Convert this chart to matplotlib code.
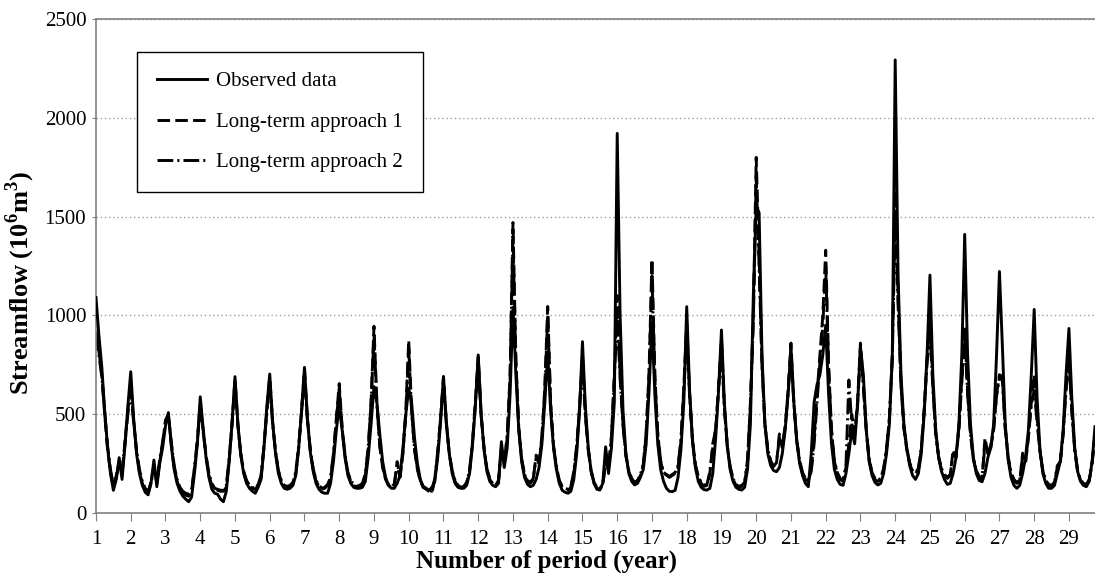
import matplotlib
matplotlib.use("Agg")
import matplotlib.pyplot as plt
import numpy as np

plt.rcParams['font.family'] = ['Liberation Serif', 'DejaVu Serif']
plt.rcParams['mathtext.fontset'] = 'custom'
plt.rcParams['mathtext.rm'] = 'Liberation Serif'
plt.rcParams['mathtext.bf'] = 'Liberation Serif:bold'

# Monthly streamflow (10^6 m3), one row per year (first month = seasonal peak)
observed = [
    [1090, 900, 740, 520, 330, 200, 115, 170, 280, 170, 340, 540],
    [715, 480, 300, 200, 140, 105, 92, 150, 268, 133, 250, 330],
    [440, 508, 340, 220, 150, 110, 85, 70, 57, 80, 200, 350],
    [588, 430, 280, 180, 120, 100, 95, 70, 57, 110, 260, 460],
    [690, 450, 290, 200, 150, 125, 110, 100, 130, 170, 330, 540],
    [703, 460, 300, 200, 150, 125, 120, 125, 140, 190, 330, 520],
    [737, 480, 310, 210, 150, 120, 105, 100, 100, 150, 260, 420],
    [540, 420, 280, 190, 150, 130, 125, 125, 130, 160, 280, 450],
    [640, 560, 400, 260, 180, 140, 125, 125, 150, 190, 330, 500],
    [631, 560, 380, 250, 170, 130, 125, 115, 130, 160, 280, 460],
    [690, 460, 300, 200, 150, 130, 125, 125, 140, 200, 340, 540],
    [800, 500, 320, 210, 160, 140, 133, 150, 361, 230, 330, 600],
    [1040, 700, 420, 260, 180, 145, 133, 140, 170, 230, 350, 560],
    [810, 520, 330, 220, 150, 115, 105, 100, 110, 170, 300, 520],
    [867, 540, 330, 210, 150, 120, 116, 150, 335, 200, 330, 560],
    [1921, 1000, 520, 300, 200, 160, 142, 150, 180, 220, 350, 620],
    [960, 600, 350, 220, 160, 125, 110, 108, 115, 180, 320, 560],
    [1044, 620, 360, 230, 160, 130, 118, 116, 125, 200, 380, 620],
    [926, 560, 340, 220, 160, 130, 120, 116, 130, 220, 450, 1100],
    [1550, 1520, 800, 450, 300, 240, 215, 209, 230, 300, 420, 600],
    [830, 560, 360, 250, 190, 150, 133, 300, 560, 650, 700, 800],
    [950, 600, 350, 220, 170, 145, 140, 200, 300, 420, 350, 550],
    [840, 700, 420, 260, 190, 155, 142, 150, 200, 300, 450, 800],
    [2293, 1200, 700, 450, 330, 240, 190, 170, 200, 300, 500, 800],
    [1204, 700, 420, 280, 210, 170, 145, 150, 200, 280, 450, 800],
    [1410, 800, 450, 280, 200, 165, 158, 200, 280, 330, 450, 800],
    [1222, 850, 450, 270, 180, 140, 125, 140, 200, 280, 420, 700],
    [1030, 580, 320, 200, 150, 125, 125, 140, 200, 260, 420, 700],
    [934, 580, 330, 210, 160, 140, 133, 160, 260, 437],
]

approach1 = [
    [920, 820, 700, 500, 320, 210, 130, 190, 250, 200, 360, 520],
    [650, 470, 310, 210, 150, 115, 100, 160, 240, 150, 260, 350],
    [470, 500, 350, 230, 160, 120, 100, 90, 85, 110, 220, 360],
    [560, 420, 290, 190, 140, 120, 115, 110, 110, 130, 270, 450],
    [680, 450, 300, 210, 160, 135, 125, 120, 140, 180, 330, 520],
    [690, 460, 310, 210, 160, 135, 130, 135, 150, 200, 330, 520],
    [730, 480, 320, 220, 160, 135, 120, 125, 140, 170, 290, 480],
    [655, 430, 290, 200, 160, 140, 130, 135, 140, 190, 320, 560],
    [945, 560, 340, 230, 170, 140, 130, 140, 260, 180, 300, 520],
    [875, 520, 320, 220, 160, 130, 120, 110, 100, 170, 300, 480],
    [690, 450, 300, 210, 160, 135, 125, 130, 150, 210, 350, 560],
    [790, 500, 330, 220, 170, 145, 135, 160, 330, 250, 380, 700],
    [1470, 780, 430, 270, 190, 160, 150, 170, 293, 250, 380, 640],
    [1045, 560, 340, 230, 160, 130, 120, 115, 130, 200, 330, 540],
    [800, 500, 320, 210, 150, 125, 120, 140, 260, 220, 380, 700],
    [1100, 700, 450, 290, 210, 170, 150, 160, 190, 240, 400, 720],
    [1285, 700, 400, 260, 200, 192, 180, 190, 200, 230, 360, 640],
    [960, 600, 370, 240, 180, 150, 135, 140, 200, 352, 420, 640],
    [880, 540, 340, 230, 170, 140, 130, 135, 150, 260, 560, 1000],
    [1800, 1300, 760, 450, 320, 260, 230, 250, 400, 330, 430, 620],
    [860, 560, 370, 260, 200, 170, 160, 220, 380, 600, 800, 1000],
    [1330, 750, 420, 260, 200, 170, 160, 230, 350, 500, 400, 560],
    [860, 650, 420, 270, 200, 170, 160, 170, 220, 320, 480, 800],
    [1630, 1100, 650, 430, 320, 250, 210, 200, 220, 320, 520, 780],
    [1000, 650, 400, 280, 220, 190, 175, 190, 319, 280, 420, 680],
    [940, 620, 400, 270, 210, 180, 170, 380, 300, 330, 420, 600],
    [700, 690, 430, 280, 200, 165, 150, 160, 303, 250, 380, 560],
    [700, 480, 310, 210, 160, 140, 135, 150, 234, 250, 400, 640],
    [810, 520, 320, 210, 165, 145, 140, 165, 250, 400],
]

approach2 = [
    [900, 800, 690, 510, 340, 220, 140, 180, 260, 210, 350, 500],
    [620, 460, 320, 220, 160, 125, 110, 150, 230, 160, 270, 360],
    [460, 490, 360, 240, 170, 130, 110, 100, 95, 120, 230, 370],
    [540, 410, 290, 200, 150, 125, 120, 115, 115, 140, 280, 460],
    [650, 440, 300, 210, 165, 140, 130, 125, 145, 190, 340, 510],
    [660, 450, 310, 215, 165, 140, 135, 140, 155, 210, 340, 510],
    [700, 470, 320, 225, 165, 140, 125, 130, 145, 180, 300, 470],
    [630, 430, 295, 205, 165, 145, 135, 140, 150, 200, 330, 560],
    [900, 550, 340, 235, 175, 145, 135, 145, 240, 190, 310, 500],
    [830, 510, 325, 225, 165, 135, 125, 115, 110, 175, 310, 480],
    [660, 445, 305, 215, 165, 140, 130, 135, 155, 215, 355, 550],
    [760, 490, 330, 225, 175, 150, 140, 165, 320, 260, 390, 680],
    [1400, 760, 430, 275, 195, 165, 155, 175, 280, 260, 390, 620],
    [1000, 550, 340, 235, 165, 135, 125, 120, 135, 210, 340, 530],
    [760, 490, 320, 215, 155, 130, 125, 145, 250, 230, 390, 680],
    [1000, 680, 440, 290, 215, 175, 155, 165, 195, 245, 410, 700],
    [1200, 680, 400, 265, 205, 195, 185, 195, 205, 240, 370, 620],
    [920, 590, 370, 245, 185, 155, 140, 145, 210, 330, 430, 620],
    [850, 530, 340, 235, 175, 145, 135, 140, 155, 270, 540, 960],
    [1700, 1250, 740, 450, 325, 265, 235, 255, 380, 340, 440, 600],
    [830, 550, 370, 265, 205, 175, 165, 210, 350, 560, 760, 950],
    [1250, 730, 420, 265, 205, 175, 165, 240, 673, 450, 410, 540],
    [830, 640, 420, 275, 205, 175, 165, 175, 225, 330, 480, 780],
    [1500, 1050, 640, 430, 325, 255, 215, 205, 225, 330, 520, 760],
    [920, 630, 400, 285, 225, 195, 180, 195, 300, 290, 430, 660],
    [900, 600, 395, 275, 215, 185, 175, 350, 310, 340, 430, 590],
    [690, 670, 425, 285, 205, 170, 155, 165, 290, 260, 390, 550],
    [620, 460, 310, 215, 165, 145, 140, 155, 240, 260, 400, 620],
    [780, 510, 320, 215, 170, 150, 145, 170, 255, 390],
]

year_labels = [str(i) for i in range(1, 30)]
series_names = ["Observed data", "Long-term approach 1", "Long-term approach 2"]
y_ticks = [0, 500, 1000, 1500, 2000, 2500]

obs = np.concatenate([np.array(r, float) for r in observed])
a1 = np.concatenate([np.array(r, float) for r in approach1])
a2 = np.concatenate([np.array(r, float) for r in approach2])
months = np.arange(len(obs))

fig = plt.figure(figsize=(10.95, 5.75), dpi=100)
ax = fig.add_axes([96/1095, 1 - 513/575, 1 - 96/1095, (513 - 19)/575])

lw = 2.1
ax.plot(months, obs, color='black', lw=lw, ls='-', label=series_names[0], zorder=3)
ax.plot(months, a1, color='black', lw=lw, ls=(0, (4.3, 1.8)), label=series_names[1], zorder=2)
ax.plot(months, a2, color='black', lw=lw, ls=(0, (5.4, 1.4, 0.7, 1.4)), label=series_names[2], zorder=2)

ax.set_xlim(0, len(obs) - 1)
ax.set_ylim(0, 2500)
ax.set_yticks(y_ticks)
ax.set_xticks(np.arange(0, 12 * len(year_labels), 12))
ax.set_xticklabels(year_labels)

ax.yaxis.grid(True, ls=(0, (1, 2)), color='#a0a0a0', lw=1)
ax.set_axisbelow(True)
for s in ['left', 'bottom', 'top']:
    ax.spines[s].set_color('#808080')
    ax.spines[s].set_linewidth(1.2)
ax.spines['right'].set_visible(False)

ax.tick_params(axis='x', direction='out', length=6, color='#808080', labelsize=15, pad=6)
ax.tick_params(axis='y', direction='out', length=3, color='#808080', labelsize=15, pad=4)

ax.set_xlabel('Number of period (year)', fontsize=18, fontweight='bold')
ax.xaxis.set_label_coords((546 - 96) / 999, -(561 - 513) / 494)
ax.xaxis.label.set_va('center')
ax.set_ylabel(r'Streamflow (10$^\mathbf{6}$m$^\mathbf{3}$)', fontsize=19, fontweight='bold')
ax.yaxis.set_label_coords(-(96 - 20) / 999, (513 - 283) / 494)
ax.yaxis.label.set_va('center')

leg = ax.legend(loc='upper left', bbox_to_anchor=(0.041, 0.933), fontsize=15,
                frameon=True, fancybox=False, edgecolor='black', framealpha=1,
                handlelength=2.4, labelspacing=1.0, borderpad=0.95, handletextpad=0.45,
                borderaxespad=0)
leg.get_frame().set_linewidth(1.0)

fig.savefig('out.png', dpi=100)
